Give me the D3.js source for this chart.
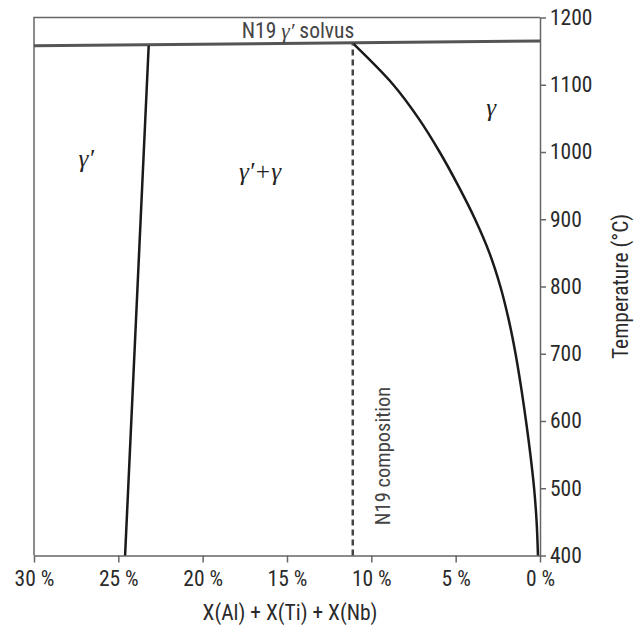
<!DOCTYPE html>
<html><head><meta charset="utf-8">
<script src="https://cdn.jsdelivr.net/npm/d3@7"></script>
<style>
body{margin:0;background:#fff;}
svg{display:block;}
.tick text{font-family:"Liberation Sans Narrow","Roboto Condensed","Arial Narrow",sans-serif;font-size:21.5px;fill:#2a2a2a;}
</style></head>
<body><svg id="c" width="642" height="630"></svg>
<script>
// ---- data ----
const xTicks = [30, 25, 20, 15, 10, 5, 0];
const yTicks = [400, 500, 600, 700, 800, 900, 1000, 1100, 1200];
const solvusLine = [{x: 30, t: 1158}, {x: 0, t: 1165}];
const gammaPrimeBoundary = [{x: 24.6, t: 400}, {x: 23.2, t: 1158}];
const n19Composition = 11.1;
const n19Span = [400, 1161];
const gammaBoundary = [
  {x: 11.07, t: 1161}, {x: 8.7, t: 1100}, {x: 7.2, t: 1050}, {x: 5.95, t: 1000},
  {x: 4.85, t: 950}, {x: 3.85, t: 900}, {x: 3.0, t: 850}, {x: 2.35, t: 800},
  {x: 1.85, t: 750}, {x: 1.45, t: 700}, {x: 1.12, t: 650}, {x: 0.83, t: 600},
  {x: 0.57, t: 550}, {x: 0.35, t: 500}, {x: 0.20, t: 450}, {x: 0.12, t: 400}
];
const phaseLabels = [
  {text: "γ′", x: 26.9, t: 978},
  {text: "γ′+γ", x: 16.6, t: 958},
  {text: "γ", x: 2.9, t: 1053}
];

// ---- chart ----
const svg = d3.select("#c");
const x = d3.scaleLinear().domain([30, 0]).range([34, 540]);
const y = d3.scaleLinear().domain([400, 1200]).range([555.5, 17.5]);
const axisColor = "#666";
const narrow = '"Liberation Sans Narrow","Roboto Condensed","Arial Narrow",sans-serif';
const fs = 21.5;

// box left + top
svg.append("path")
  .attr("d", `M${x(30)},${y(400)}V${y(1200)}H${x(0)}`)
  .attr("fill", "none").attr("stroke", axisColor).attr("stroke-width", 1.5);

// bottom axis
const gx = svg.append("g").attr("transform", `translate(0,${y(400)})`)
  .call(d3.axisBottom(x).tickValues(xTicks).tickSize(7).tickSizeOuter(0).tickPadding(8)
    .tickFormat(d => d + " %"));
gx.selectAll("path,line").attr("stroke", axisColor).attr("stroke-width", 1.5);

// right axis
const gy = svg.append("g").attr("transform", `translate(${x(0)},0)`)
  .call(d3.axisRight(y).tickValues(yTicks).tickSize(6).tickSizeOuter(0).tickPadding(4)
    .tickFormat(d3.format("d")));
gy.selectAll("path,line").attr("stroke", axisColor).attr("stroke-width", 1.5);

// axis titles
svg.append("text").attr("x", 290).attr("y", 620).attr("text-anchor", "middle")
  .attr("font-family", narrow).attr("font-size", fs).attr("fill", "#2a2a2a")
  .text("X(Al) + X(Ti) + X(Nb)");
svg.append("text").attr("transform", `translate(628,${(y(400)+y(1200))/2}) rotate(-90)`)
  .attr("text-anchor", "middle").attr("font-family", narrow).attr("font-size", fs).attr("fill", "#2a2a2a")
  .text("Temperature (°C)");

const line = d3.line().x(d => x(d.x)).y(d => y(d.t));

// solvus
svg.append("path").datum(solvusLine).attr("d", line)
  .attr("fill", "none").attr("stroke", "#555").attr("stroke-width", 3);

// solvus label
const sl = svg.append("text").attr("x", 298).attr("y", 38).attr("text-anchor", "middle")
  .attr("font-family", narrow).attr("font-size", fs).attr("fill", "#444");
sl.append("tspan").text("N19 ");
sl.append("tspan").attr("font-family", '"Liberation Serif","DejaVu Serif",serif').attr("font-style", "italic").text("γ′");
sl.append("tspan").text(" solvus");

// gamma' boundary
svg.append("path").datum(gammaPrimeBoundary).attr("d", line)
  .attr("fill", "none").attr("stroke", "#1a1a1a").attr("stroke-width", 2.5);

// gamma boundary
svg.append("path").datum(gammaBoundary)
  .attr("d", d3.line().x(d => x(d.x)).y(d => y(d.t)).curve(d3.curveCatmullRom))
  .attr("fill", "none").attr("stroke", "#1a1a1a").attr("stroke-width", 2.5);

// N19 composition dashed
svg.append("line")
  .attr("x1", x(n19Composition)).attr("x2", x(n19Composition))
  .attr("y1", y(n19Span[0])).attr("y2", y(n19Span[1]))
  .attr("stroke", "#444").attr("stroke-width", 2.5).attr("stroke-dasharray", "6,4");
svg.append("text")
  .attr("transform", `translate(${x(n19Composition) + 37},456) rotate(-90)`)
  .attr("text-anchor", "middle").attr("font-family", narrow).attr("font-size", 20.5).attr("fill", "#444")
  .text("N19 composition");

// phase labels
svg.selectAll(".phase").data(phaseLabels).join("text")
  .attr("class", "phase")
  .attr("x", d => x(d.x)).attr("y", d => y(d.t)).attr("text-anchor", "middle")
  .attr("font-family", '"Liberation Serif","DejaVu Serif",serif').attr("font-style", "italic")
  .attr("font-size", 25).attr("fill", "#222")
  .text(d => d.text);
</script></body></html>
